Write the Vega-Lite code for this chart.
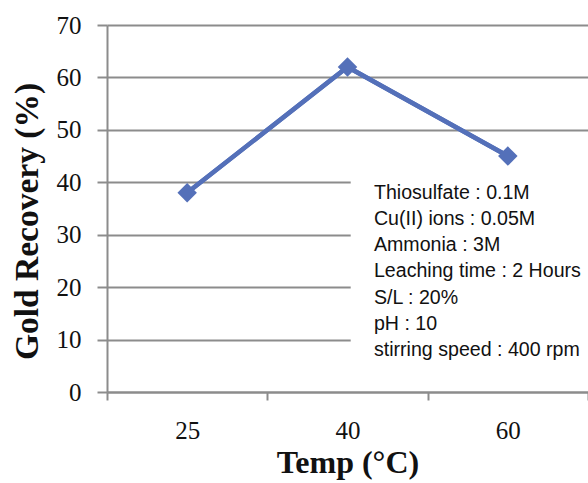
{
  "$schema": "https://vega.github.io/schema/vega-lite/v6.json",
  "width": 481,
  "height": 367,
  "autosize": {"type": "none"},
  "padding": {"left": 107, "top": 25, "right": 0, "bottom": 91},
  "background": "white",
  "config": {
    "view": {"stroke": null},
    "axis": {
      "labelFont": "Liberation Serif",
      "labelFontSize": 25,
      "labelColor": "#111111",
      "titleFont": "Liberation Serif",
      "titleFontSize": 32,
      "titleFontWeight": "bold",
      "titleColor": "#111111",
      "domainColor": "#8c8c8c",
      "domainWidth": 2,
      "tickColor": "#8c8c8c",
      "tickWidth": 2,
      "gridColor": "#8c8c8c",
      "gridWidth": 2
    }
  },
  "datasets": {
    "recovery": [
      {"temp": "25", "recovery": 38},
      {"temp": "40", "recovery": 62},
      {"temp": "60", "recovery": 45}
    ],
    "notes": [
      {"line": "Thiosulfate : 0.1M", "pos": 38},
      {"line": "Cu(II) ions : 0.05M", "pos": 33},
      {"line": "Ammonia : 3M", "pos": 28},
      {"line": "Leaching time : 2 Hours", "pos": 23},
      {"line": "S/L : 20%", "pos": 18},
      {"line": "pH : 10", "pos": 13},
      {"line": "stirring speed : 400 rpm", "pos": 8}
    ],
    "box": [{"x1": "40", "x2": "60", "top": 41.5, "bottom": 2}]
  },
  "layer": [
    {
      "data": {"name": "recovery"},
      "mark": {"type": "line", "color": "#5470b9", "strokeWidth": 4.5},
      "encoding": {
        "x": {
          "field": "temp",
          "type": "ordinal",
          "bandPosition": 0.5,
          "sort": ["25", "40", "60"],
          "scale": {"type": "band", "domain": ["25", "40", "60"], "paddingInner": 0, "paddingOuter": 0},
          "axis": {
            "title": "Temp (°C)",
            "tickBand": "extent",
            "tickSize": 8,
            "labelPadding": 18,
            "titlePadding": 4,
            "labelAngle": 0,
            "grid": false
          }
        },
        "y": {
          "field": "recovery",
          "type": "quantitative",
          "scale": {"domain": [0, 70], "nice": false},
          "axis": {
            "title": "Gold Recovery (%)",
            "titleFontSize": 33.5,
            "titleY": 196,
            "values": [0, 10, 20, 30, 40, 50, 60, 70],
            "tickSize": 10,
            "labelPadding": 16,
            "titlePadding": 12,
            "grid": true
          }
        }
      }
    },
    {
      "data": {"name": "box"},
      "mark": {"type": "rect", "fill": "white"},
      "encoding": {
        "x": {"field": "x1", "type": "ordinal", "bandPosition": 0.52},
        "x2": {"field": "x2", "bandPosition": 1},
        "y": {"field": "top", "type": "quantitative"},
        "y2": {"field": "bottom"}
      }
    },
    {
      "data": {"name": "recovery"},
      "mark": {"type": "line", "color": "#5470b9", "strokeWidth": 4.5},
      "encoding": {
        "x": {"field": "temp", "type": "ordinal", "bandPosition": 0.5},
        "y": {"field": "recovery", "type": "quantitative"}
      }
    },
    {
      "data": {"name": "recovery"},
      "mark": {"type": "point", "shape": "diamond", "filled": true, "opacity": 1, "size": 380, "color": "#5470b9"},
      "encoding": {
        "x": {"field": "temp", "type": "ordinal", "bandPosition": 0.5},
        "y": {"field": "recovery", "type": "quantitative"}
      }
    },
    {
      "data": {"name": "notes"},
      "mark": {"type": "text", "align": "left", "baseline": "middle", "font": "Liberation Sans", "fontSize": 19.6, "color": "#111111"},
      "encoding": {
        "x": {"datum": "40", "bandPosition": 0.665},
        "y": {"field": "pos", "type": "quantitative"},
        "text": {"field": "line"}
      }
    }
  ]
}
